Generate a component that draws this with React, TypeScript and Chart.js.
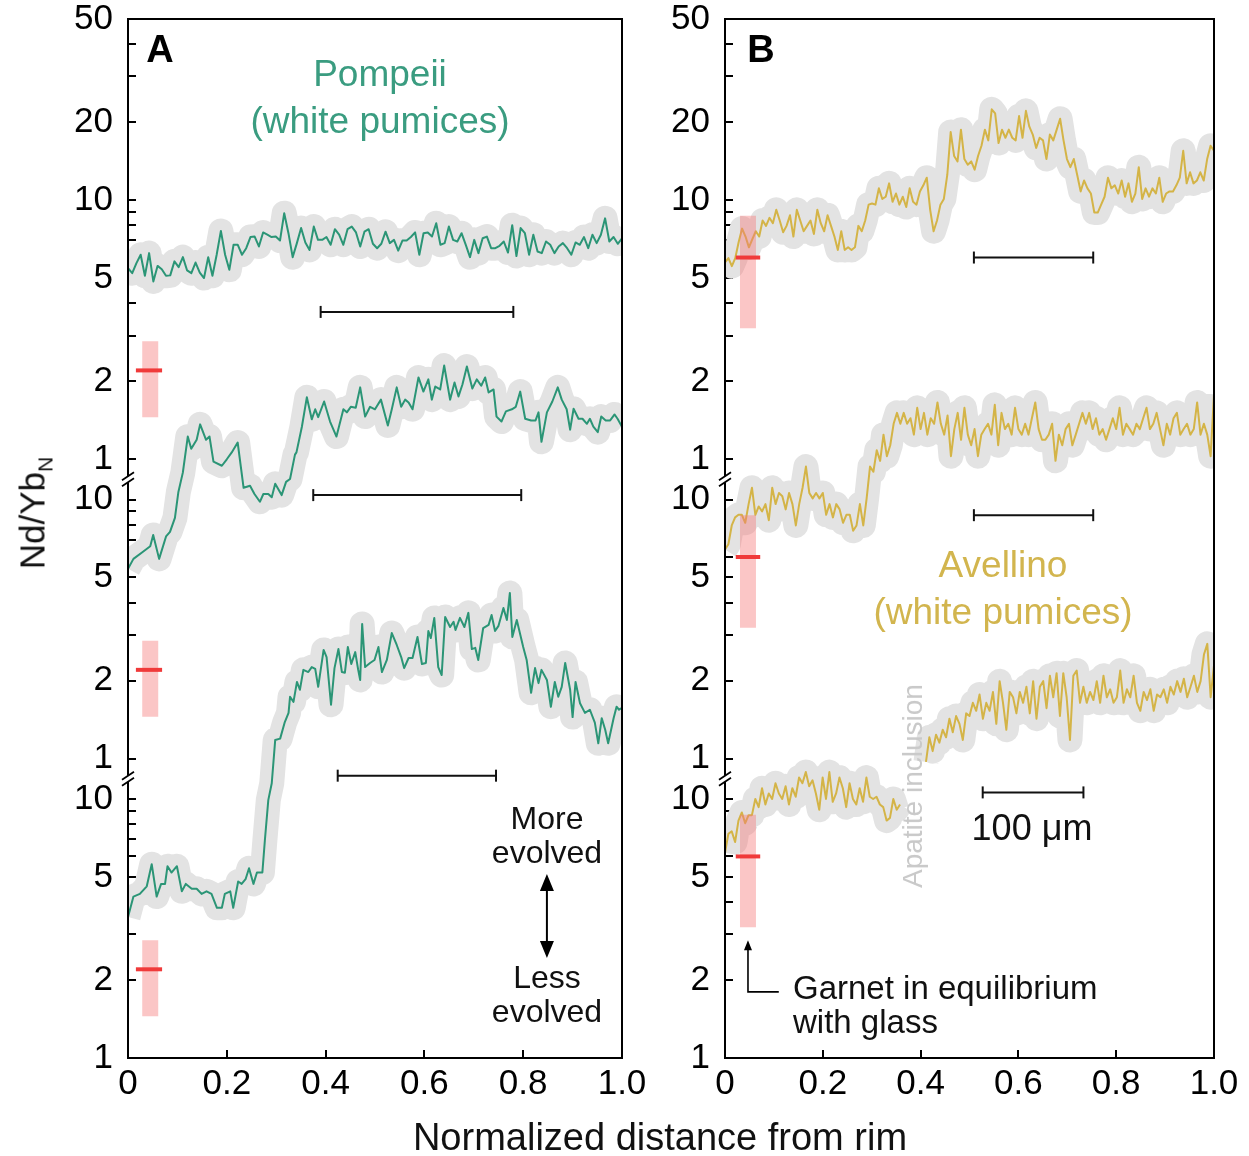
import React, { useEffect, useRef } from 'react';
import { Chart, registerables } from 'chart.js';

Chart.register(...registerables);

// ---------------- axes ----------------
const xTickValues = [0, 0.2, 0.4, 0.6, 0.8, 1.0];
const xTickLabels = ['0', '0.2', '0.4', '0.6', '0.8', '1.0'];
const lowerBandTicks = [1, 2, 3, 4, 5, 6, 7, 8, 9, 10];
const upperBandTicks = [1, 2, 3, 4, 5, 6, 7, 8, 9, 10, 20, 30, 40, 50];
const labelledTickValues = [1, 2, 5, 10, 20, 50];
// three stacked log bands (bottom, middle, top): shift of each band in decades
const bandShift = [0, 1.156, 2.312];
const axisTopDecades = 4.011;

// ---------------- Pompeii (panel A) Nd/Yb_N profiles ----------------
const pompeiiTop = [
  5.46, 5.22, 5.71, 6.15, 5.10, 6.24, 4.85, 5.57, 5.41, 5.10,
  5.12, 5.80, 5.51, 6.02, 5.35, 5.22, 5.74, 5.25, 5.00, 6.02,
  5.10, 6.15, 7.60, 6.15, 5.38, 6.72, 6.72, 6.15, 6.52, 7.20,
  7.23, 6.62, 7.50, 7.35, 7.20, 7.23, 6.98, 8.90, 7.45, 6.02,
  6.82, 7.80, 6.86, 6.42, 7.90, 7.02, 7.02, 7.20, 6.72, 7.72,
  7.35, 6.72, 7.72, 7.90, 7.50, 6.62, 7.55, 7.72, 6.78, 6.52,
  6.78, 7.55, 6.82, 7.02, 6.38, 6.98, 6.98, 7.20, 7.50, 6.15,
  7.45, 7.50, 7.23, 8.14, 6.72, 6.82, 7.90, 7.02, 6.92, 7.45,
  6.72, 6.02, 7.02, 6.24, 7.12, 7.23, 6.52, 6.52, 6.66, 6.92,
  6.27, 8.00, 6.08, 7.80, 7.45, 6.15, 7.35, 6.33, 6.24, 6.92,
  6.72, 6.24, 6.62, 6.82, 6.52, 6.15, 6.86, 6.72, 7.20, 6.52,
  7.35, 6.82, 7.35, 8.50, 6.92, 7.20, 6.78, 7.12,
];
const pompeiiTopRange = [0, 1];

const pompeiiMiddleX = [
  0, 0.011, 0.031, 0.045, 0.051, 0.063, 0.077, 0.085, 0.095, 0.102,
  0.111, 0.121, 0.128, 0.139, 0.146, 0.158, 0.165, 0.173, 0.190, 0.200,
  0.210, 0.222, 0.234, 0.247, 0.256, 0.267, 0.274, 0.284, 0.291, 0.298,
  0.311, 0.320, 0.328, 0.338,
  0.341, 0.352, 0.362, 0.372, 0.379, 0.385, 0.397, 0.409, 0.422, 0.436,
  0.443, 0.451, 0.461, 0.470, 0.480, 0.490, 0.500, 0.512, 0.526, 0.534,
  0.544, 0.553, 0.561, 0.568, 0.576, 0.588, 0.598, 0.608, 0.615, 0.622,
  0.632, 0.640, 0.652, 0.661, 0.669, 0.677, 0.686, 0.697, 0.706, 0.715,
  0.723, 0.730, 0.740, 0.746, 0.756, 0.765, 0.777, 0.785, 0.794, 0.804,
  0.816, 0.825, 0.831, 0.837, 0.848, 0.859, 0.870, 0.878, 0.888, 0.895,
  0.902, 0.912, 0.920, 0.929, 0.935, 0.942, 0.951, 0.958, 0.967, 0.976,
  0.985, 0.991, 1.0,
];
const pompeiiMiddle = [
  5.4, 5.9, 6.3, 6.6, 7.3, 5.9, 7.2, 7.5, 8.5, 10.7,
  12.7, 17.5, 15.7, 17.0, 19.5, 17.0, 17.5, 14.0, 13.5, 14.3,
  15.2, 16.6, 11.1, 11.3, 10.5, 9.8, 10.5, 10.5, 10.2, 11.5,
  10.4, 11.7, 12.0, 14.9,
  15.2, 19.1, 24.8, 20.4, 22.3, 20.8, 23.9, 20.0, 17.5, 22.3,
  21.7, 22.8, 22.6, 27.1, 20.9, 22.8, 22.3, 24.3, 19.3, 22.3,
  27.1, 22.8, 24.3, 23.7, 22.3, 29.6, 26.1, 29.1, 24.3, 27.3,
  26.6, 32.9, 24.3, 28.3, 25.0, 27.8, 32.6, 26.8, 29.1, 27.5,
  29.6, 25.9, 26.6, 20.9, 20.0, 21.9, 22.3, 22.8, 26.1, 20.5,
  20.2, 20.2, 21.7, 16.7, 21.7, 23.9, 27.1, 24.3, 22.3, 18.6,
  22.4, 20.5, 20.5, 19.6, 20.5, 19.1, 18.2, 20.9, 20.2, 20.2,
  21.3, 20.5, 19.1,
];

const pompeiiBottomX = [
  0, 0.011, 0.024, 0.038, 0.048, 0.058, 0.067, 0.075, 0.080, 0.088,
  0.099, 0.109, 0.117, 0.129, 0.139, 0.149, 0.159, 0.169, 0.180, 0.190,
  0.196, 0.207, 0.213, 0.223, 0.230, 0.238, 0.245, 0.254, 0.261, 0.272,
  0.277, 0.284, 0.291, 0.298, 0.308, 0.317, 0.325, 0.328, 0.335, 0.342,
  0.348, 0.355, 0.365, 0.372, 0.379, 0.385, 0.396, 0.402, 0.411, 0.418,
  0.426, 0.433, 0.439, 0.445, 0.452, 0.460, 0.466, 0.470, 0.474, 0.480,
  0.490, 0.499, 0.507, 0.514, 0.524, 0.534, 0.544, 0.553, 0.559, 0.568,
  0.576, 0.586, 0.595, 0.603, 0.608, 0.613, 0.620, 0.628, 0.635, 0.642,
  0.652, 0.659, 0.663, 0.672, 0.681, 0.689, 0.696, 0.703, 0.709, 0.719,
  0.730, 0.736, 0.743, 0.750, 0.760, 0.767, 0.773, 0.778, 0.787, 0.800,
  0.807, 0.816, 0.824, 0.831, 0.837, 0.848, 0.856, 0.864, 0.871, 0.878,
  0.885, 0.895, 0.900, 0.906, 0.915, 0.925, 0.935, 0.945, 0.952, 0.959,
  0.966, 0.972, 0.983, 0.989, 0.994, 1.0,
];
const pompeiiBottom = [
  3.5, 4.2, 4.3, 4.6, 5.6, 4.2, 4.7, 4.7, 5.5, 5.2,
  5.5, 4.4, 4.7, 4.5, 4.5, 4.3, 4.4, 4.3, 3.8, 3.8,
  4.3, 4.4, 3.8, 4.8, 4.7, 4.9, 5.4, 4.7, 5.2, 5.2,
  6.9, 9.9, 11.5, 16.9, 17.1, 19.7, 21.5, 24.8, 23.7, 28.3,
  26.4, 31.5, 30.9, 32.3, 31.8, 27.1, 37.6, 35.3, 23.1, 32.0,
  37.9, 30.9, 30.7, 38.6, 33.2, 36.9, 31.5, 28.8, 47.4, 32.3,
  33.5, 34.4, 38.6, 30.9, 34.4, 43.7, 39.3, 35.3, 32.0, 35.0,
  35.0, 42.2, 33.2, 33.5, 44.5, 41.8, 50.0, 32.3, 30.1, 50.4,
  46.1, 48.3, 44.9, 50.0, 46.1, 52.3, 37.9, 38.3, 34.4, 45.7,
  47.0, 51.3, 44.5, 46.6, 54.6, 49.1, 62.4, 42.2, 49.1, 38.6,
  34.4, 25.7, 32.0, 28.0, 31.5, 28.8, 22.7, 28.3, 24.8, 27.1,
  33.5, 26.4, 20.7, 28.3, 23.4, 21.5, 22.1, 19.7, 16.4, 20.5,
  18.5, 16.4, 20.5, 22.7, 22.1, 22.5,
];

// ---------------- Avellino (panel B) Nd/Yb_N profiles ----------------
const avellinoTop = [
  5.75, 5.97, 5.56, 5.97, 6.89, 7.76, 7.23, 6.57, 7.06, 7.58,
  7.23, 8.34, 7.95, 8.54, 8.14, 9.17, 8.34, 7.51, 7.95, 8.74,
  7.23, 9.17, 8.34, 7.58, 7.95, 8.34, 7.40, 9.17, 8.14, 7.58,
  8.74, 7.95, 7.23, 6.42, 7.58, 6.42, 6.57, 6.42, 6.57, 7.95,
  7.58, 8.34, 9.60, 9.70, 9.60, 11.1, 10.1, 10.3, 11.6, 9.85,
  10.6, 9.60, 10.3, 9.40, 11.1, 9.85, 9.60, 10.8, 11.4, 12.2,
  9.17, 7.58, 8.34, 9.60, 10.1, 12.5, 18.3, 14.8, 14.1, 18.7,
  14.4, 13.7, 14.1, 13.1, 14.8, 16.2, 18.7, 17.0, 22.4, 21.6,
  16.6, 18.7, 17.4, 18.7, 17.4, 17.0, 21.1, 17.4, 22.1, 19.2,
  17.9, 15.9, 17.4, 17.0, 14.4, 17.9, 17.0, 18.7, 20.6, 17.0,
  14.4, 13.4, 14.4, 12.5, 10.8, 11.9, 11.1, 10.6, 8.95, 8.95,
  9.60, 10.3, 12.2, 11.1, 11.4, 10.6, 11.9, 10.3, 11.6, 9.85,
  10.6, 13.4, 10.1, 11.1, 10.3, 11.1, 10.6, 12.2, 9.85, 10.6,
  10.8, 10.8, 11.4, 12.2, 15.5, 11.6, 12.8, 11.6, 11.9, 12.8,
  11.9, 14.4, 16.2, 15.5,
];
const avellinoTopRange = [0, 1];

const avellinoMiddle = [
  6.41, 6.72, 7.94, 8.53, 8.73, 8.73, 8.13, 9.60, 11.1, 8.73,
  9.40, 9.00, 9.60, 8.32, 11.1, 9.60, 10.6, 10.3, 9.16, 10.6,
  9.60, 7.94, 9.60, 11.1, 13.4, 10.6, 10.1, 10.6, 10.1, 10.6,
  8.73, 9.60, 8.53, 9.60, 9.16, 8.13, 8.73, 8.73, 7.57, 7.94,
  9.60, 7.94, 10.1, 13.4, 12.8, 15.5, 14.1, 17.8, 14.7, 16.2,
  19.6, 21.6, 19.6, 21.6, 19.6, 20.6, 17.8, 22.6, 18.7, 21.6,
  17.8, 20.6, 19.6, 23.7, 19.6, 17.8, 21.1, 14.7, 18.7, 21.6,
  17.0, 22.6, 17.8, 16.2, 18.7, 14.7, 17.8, 18.7, 19.6, 17.8,
  23.2, 16.2, 21.6, 18.7, 19.6, 17.8, 22.6, 18.7, 17.8, 19.6,
  17.8, 20.6, 23.7, 18.7, 17.0, 17.0, 17.8, 19.6, 14.1, 17.8,
  16.2, 18.7, 19.6, 16.2, 17.8, 19.6, 21.6, 19.6, 21.6, 18.7,
  20.6, 17.8, 18.7, 17.0, 18.7, 20.6, 18.7, 22.6, 17.8, 19.6,
  18.7, 17.8, 19.6, 18.7, 20.6, 22.6, 18.7, 19.6, 21.6, 18.7,
  16.2, 19.6, 17.8, 20.6, 21.6, 17.8, 18.7, 19.6, 17.8, 18.7,
  23.7, 17.8, 19.6, 17.8, 14.7, 25.5,
];
const avellinoMiddleRange = [0, 1];

// bottom profile is interrupted by an apatite inclusion
const avellinoBottomRim = [
  6.20, 7.33, 7.50, 6.82, 8.25, 8.87, 8.06, 8.66, 8.66, 10.0,
  9.30, 11.0, 9.52, 10.5, 10.0, 11.5, 10.5, 10.0, 11.2, 9.52,
  11.0, 10.2, 12.1, 11.5, 12.7, 11.2, 11.8, 10.5, 9.08, 12.1,
  10.0, 12.7, 9.75, 10.5, 12.1, 11.0, 9.30, 11.5, 10.0, 9.52,
  11.0, 9.75, 12.1, 10.2, 10.0, 10.2, 9.52, 9.30, 8.25, 8.45,
  10.0, 9.08, 9.52,
];
const avellinoBottomRimRange = [0, 0.358];
const avellinoBottomCore = [
  13.9, 17.3, 15.3, 17.7, 16.5, 18.5, 17.3, 20.4, 18.1, 20.9,
  19.5, 16.9, 21.4, 20.9, 23.5, 21.9, 25.3, 20.4, 23.5, 21.9,
  25.9, 19.5, 28.5, 23.5, 18.5, 25.9, 24.7, 21.4, 25.9, 23.5,
  27.1, 21.4, 28.5, 20.4, 27.1, 28.5, 22.4, 29.9, 24.7, 30.6,
  20.9, 30.6, 24.7, 16.9, 29.9, 31.3, 23.5, 27.1, 23.5, 25.9,
  24.1, 28.5, 23.5, 29.9, 24.7, 26.5, 23.5, 24.7, 31.3, 23.5,
  26.5, 24.7, 29.9, 23.5, 21.9, 25.9, 24.1, 26.5, 21.9, 25.3,
  24.7, 26.5, 23.5, 27.1, 25.3, 28.5, 25.9, 29.1, 24.7, 27.1,
  29.9, 25.9, 28.5, 36.1, 39.7, 24.7, 32.8,
];
const avellinoBottomCoreRange = [0.411, 1.0];

// garnet in equilibrium with glass (ratio, uncertainty range) and its x position
const garnetRatio = [2.2, 6.0];          // Pompeii, Avellino
const garnetLow = [1.45, 3.2];
const garnetHigh = [2.85, 8.7];
const garnetX = [0.045, 0.047];
const garnetTickFrom = [0.016, 0.022];
const garnetTickTo = [0.069, 0.072];

// 100 µm scale bars (per band: bottom, middle, top)
const pompeiiBarFrom = [0.4245, 0.375, 0.390];
const pompeiiBarTo = [0.745, 0.796, 0.780];
const pompeiiBarLevel = [12.3, 10.4, 3.7];
const avellinoBarFrom = [0.527, 0.509, 0.509];
const avellinoBarTo = [0.733, 0.753, 0.753];
const avellinoBarLevel = [10.6, 8.7, 6.0];

// annotation arrows (data coordinates, bottom band)
const evolutionArrow = { x: 0.848, upper: 5.13, lower: 2.43 };
const garnetPointer = { x: 0.047, tip: 2.85, elbow: 1.8, end: 0.11 };

// ---------------- helpers ----------------
const TEAL = '#2b9576';
const GOLD = '#d4b447';
const BAND_GREY = '#e3e3e3';
const FONT = '"Liberation Sans", Arial, Helvetica, sans-serif';

type Pt = { x: number; y: number };
const onAxis = (v: number, band: number) => v * Math.pow(10, bandShift[band]);
const evenProfile = (values: number[], range: number[], band: number): Pt[] =>
  values.map((v, i) => ({
    x: range[0] + ((range[1] - range[0]) * i) / (values.length - 1),
    y: onAxis(v, band),
  }));
const pairedProfile = (xs: number[], values: number[], band: number): Pt[] =>
  values.map((v, i) => ({ x: xs[i], y: onAxis(v, band) }));

const yTicks: { value: number; label: string }[] = [];
[lowerBandTicks, lowerBandTicks, upperBandTicks].forEach((list, band) => {
  list.forEach((v) =>
    yTicks.push({ value: onAxis(v, band), label: labelledTickValues.includes(v) ? String(v) : '' })
  );
});

const arrowHead = (ctx: CanvasRenderingContext2D, x: number, y: number, dx: number, dy: number, len: number, half: number) => {
  ctx.beginPath();
  ctx.moveTo(x, y);
  ctx.lineTo(x - dx * len - dy * half, y - dy * len + dx * half);
  ctx.lineTo(x - dx * len + dy * half, y - dy * len - dx * half);
  ctx.closePath();
  ctx.fill();
};

const decorations = (extra?: (chart: any) => void) => ({
  id: 'decorations',
  afterDraw(chart: any) {
    const { ctx, chartArea: a, scales } = chart;
    const ys = scales.y;
    ctx.save();
    ctx.strokeStyle = '#000';
    ctx.lineWidth = 2;
    ctx.strokeRect(a.left, a.top, a.right - a.left, a.bottom - a.top);
    for (let b = 0; b < 2; b++) {
      const yb = (ys.getPixelForValue(onAxis(10, b)) + ys.getPixelForValue(onAxis(1, b + 1))) / 2;
      const x = a.left;
      ctx.fillStyle = '#fff';
      ctx.fillRect(x - 3, yb - 3, 6, 6);
      ctx.beginPath();
      for (const d of [-3, 3]) {
        ctx.moveTo(x - 6, yb + d + 4);
        ctx.lineTo(x + 6, yb + d - 4);
      }
      ctx.lineWidth = 1.8;
      ctx.stroke();
    }
    if (extra) extra(chart);
    ctx.restore();
  },
});

interface PanelSpec {
  color: string;
  traces: Pt[][];
  g: number;
  barFrom: number[];
  barTo: number[];
  barLevel: number[];
  yAxisWidth: number;
  padRight: number;
  extra?: (chart: any) => void;
}

const zeroPadding = (scale: any) => {
  scale.paddingTop = 0;
  scale.paddingBottom = 0;
  scale.paddingLeft = 0;
  scale.paddingRight = 0;
};

const buildChart = (canvas: HTMLCanvasElement, spec: PanelSpec) => {
  const datasets: any[] = [];
  spec.traces.forEach((pts) => {
    datasets.push({
      data: pts, borderColor: BAND_GREY, borderWidth: 25, borderJoinStyle: 'round',
      borderCapStyle: 'butt', pointRadius: 0, order: 6, clip: 0,
    });
    datasets.push({
      data: pts, borderColor: spec.color, borderWidth: 2, borderJoinStyle: 'round',
      pointRadius: 0, order: 5, clip: 0,
    });
  });
  for (let b = 0; b < 3; b++) {
    datasets.push({
      data: [
        { x: garnetX[spec.g], y: onAxis(garnetLow[spec.g], b) },
        { x: garnetX[spec.g], y: onAxis(garnetHigh[spec.g], b) },
      ],
      borderColor: 'rgba(246, 120, 120, 0.42)', borderWidth: 16, borderCapStyle: 'butt',
      pointRadius: 0, order: 3, clip: 0,
    });
    datasets.push({
      data: [
        { x: garnetTickFrom[spec.g], y: onAxis(garnetRatio[spec.g], b) },
        { x: garnetTickTo[spec.g], y: onAxis(garnetRatio[spec.g], b) },
      ],
      borderColor: '#f03a3a', borderWidth: 4, borderCapStyle: 'butt', pointRadius: 0, order: 1, clip: 0,
    });
    datasets.push({
      data: [
        { x: spec.barFrom[b], y: onAxis(spec.barLevel[b], b) },
        { x: spec.barTo[b], y: onAxis(spec.barLevel[b], b) },
      ],
      borderColor: '#111', borderWidth: 2, pointStyle: 'line', pointRadius: 6, pointRotation: 90,
      pointBorderColor: '#111', pointBorderWidth: 2, order: 2, clip: 0,
    });
  }

  return new Chart(canvas, {
    type: 'line',
    data: { datasets },
    options: {
      animation: false,
      responsive: false,
      maintainAspectRatio: false,
      devicePixelRatio: 1,
      events: [],
      layout: { padding: { left: 0, top: 19, right: spec.padRight, bottom: 0 } },
      plugins: { legend: { display: false }, tooltip: { enabled: false }, title: { display: false } },
      scales: {
        x: {
          type: 'linear',
          min: 0,
          max: 1,
          afterBuildTicks: (scale: any) => {
            scale.ticks = xTickValues.map((v) => ({ value: v }));
          },
          afterFit: (scale: any) => {
            scale.height = 98;
            zeroPadding(scale);
          },
          ticks: {
            autoSkip: false,
            maxRotation: 0,
            padding: 17,
            color: '#000',
            font: { family: FONT, size: 35, lineHeight: 1 },
            callback: (_v: any, i: number) => xTickLabels[i],
          },
          grid: { drawOnChartArea: false, tickLength: -8, color: '#000', lineWidth: 2 },
          border: { display: true, color: '#000', width: 2 },
        },
        y: {
          type: 'logarithmic',
          min: 1,
          max: Math.pow(10, axisTopDecades),
          afterBuildTicks: (scale: any) => {
            scale.ticks = yTicks.map((t) => ({ value: t.value }));
          },
          afterFit: (scale: any) => {
            scale.width = spec.yAxisWidth;
            zeroPadding(scale);
          },
          ticks: {
            autoSkip: false,
            padding: 23,
            color: '#000',
            font: { family: FONT, size: 35, lineHeight: 1 },
            callback: (_v: any, i: number) => (yTicks[i] ? yTicks[i].label : ''),
          },
          grid: { drawOnChartArea: false, tickLength: -8, color: '#000', lineWidth: 2 },
          border: { display: true, color: '#000', width: 2 },
        },
      },
    } as any,
    plugins: [decorations(spec.extra)],
  });
};

const Label = (p: {
  x: number; y: number; size: number; color?: string; weight?: number; left?: boolean;
  rotate?: number; lh?: number; children: React.ReactNode;
}) => (
  <div
    style={{
      position: 'absolute',
      left: p.x,
      top: p.y,
      transform: `translate(${p.left ? '0' : '-50%'}, -50%) rotate(${p.rotate || 0}deg)`,
      fontSize: p.size,
      color: p.color || '#111',
      fontWeight: p.weight || 400,
      whiteSpace: 'nowrap',
      lineHeight: p.lh ? `${p.lh}px` : 'normal',
      textAlign: p.left ? 'left' : 'center',
      fontFamily: FONT,
    }}
  >
    {p.children}
  </div>
);

export default function App() {
  const refA = useRef<HTMLCanvasElement>(null);
  const refB = useRef<HTMLCanvasElement>(null);

  useEffect(() => {
    const chartA = buildChart(refA.current!, {
      color: TEAL,
      traces: [
        pairedProfile(pompeiiBottomX, pompeiiBottom, 0),
        pairedProfile(pompeiiMiddleX, pompeiiMiddle, 1),
        evenProfile(pompeiiTop, pompeiiTopRange, 2),
      ],
      g: 0,
      barFrom: pompeiiBarFrom,
      barTo: pompeiiBarTo,
      barLevel: pompeiiBarLevel,
      yAxisWidth: 128,
      padRight: 38,
      extra: (chart: any) => {
        const { ctx, scales } = chart;
        const x = scales.x.getPixelForValue(evolutionArrow.x);
        const yTop = scales.y.getPixelForValue(evolutionArrow.upper);
        const yBot = scales.y.getPixelForValue(evolutionArrow.lower);
        ctx.strokeStyle = '#000';
        ctx.fillStyle = '#000';
        ctx.lineWidth = 2;
        ctx.beginPath();
        ctx.moveTo(x, yTop + 10);
        ctx.lineTo(x, yBot - 10);
        ctx.stroke();
        arrowHead(ctx, x, yTop, 0, -1, 17, 7);
        arrowHead(ctx, x, yBot, 0, 1, 17, 7);
      },
    });
    const chartB = buildChart(refB.current!, {
      color: GOLD,
      traces: [
        evenProfile(avellinoBottomRim, avellinoBottomRimRange, 0),
        evenProfile(avellinoBottomCore, avellinoBottomCoreRange, 0),
        evenProfile(avellinoMiddle, avellinoMiddleRange, 1),
        evenProfile(avellinoTop, avellinoTopRange, 2),
      ],
      g: 1,
      barFrom: avellinoBarFrom,
      barTo: avellinoBarTo,
      barLevel: avellinoBarLevel,
      yAxisWidth: 85,
      padRight: 35,
      extra: (chart: any) => {
        const { ctx, scales } = chart;
        const x = scales.x.getPixelForValue(garnetPointer.x);
        const xEnd = scales.x.getPixelForValue(garnetPointer.end);
        const yTip = scales.y.getPixelForValue(garnetPointer.tip);
        const yElbow = scales.y.getPixelForValue(garnetPointer.elbow);
        ctx.strokeStyle = '#000';
        ctx.fillStyle = '#000';
        ctx.lineWidth = 1.6;
        ctx.beginPath();
        ctx.moveTo(x, yTip + 6);
        ctx.lineTo(x, yElbow);
        ctx.lineTo(xEnd, yElbow);
        ctx.stroke();
        arrowHead(ctx, x, yTip, 0, -1, 10, 4);
      },
    });
    return () => {
      chartA.destroy();
      chartB.destroy();
    };
  }, []);

  return (
    <div style={{ position: 'absolute', left: 0, top: 0, width: 1249, height: 1156, background: '#fff', overflow: 'hidden' }}>
      <canvas ref={refA} width={660} height={1156} style={{ position: 'absolute', left: 0, top: 0 }} />
      <canvas ref={refB} width={609} height={1156} style={{ position: 'absolute', left: 640, top: 0 }} />

      <Label x={160} y={49} size={38} weight={700} color="#000">A</Label>
      <Label x={761} y={49} size={38} weight={700} color="#000">B</Label>
      <Label x={380} y={97} size={37} color="#3a9c80" lh={47}>
        Pompeii<br />(white pumices)
      </Label>
      <Label x={1003} y={588} size={37} color="#d2b54e" lh={47}>
        Avellino<br />(white pumices)
      </Label>
      <Label x={547} y={835} size={32} lh={34}>More<br />evolved</Label>
      <Label x={547} y={994} size={32} lh={34}>Less<br />evolved</Label>
      <Label x={793} y={1005} size={33} lh={34} left>Garnet in equilibrium<br />with glass</Label>
      <Label x={1032} y={828} size={36}>100 μm</Label>
      <Label x={913} y={786} size={28} color="#c9c9c9" rotate={-90}>Apatite inclusion</Label>
      <Label x={35} y={513} size={35} rotate={-90}>
        Nd/Yb<sub style={{ fontSize: 21 }}>N</sub>
      </Label>
      <Label x={660} y={1137} size={38}>Normalized distance from rim</Label>
    </div>
  );
}
